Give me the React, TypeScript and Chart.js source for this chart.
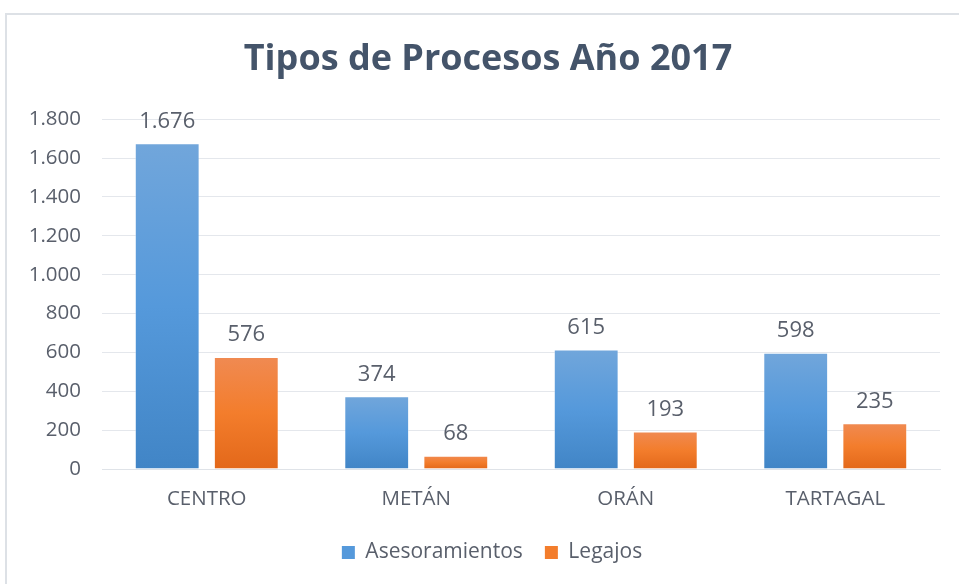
import React, { useEffect, useRef } from "react";
import { Chart, registerables } from "chart.js";

Chart.register(...registerables);

const categories = ["CENTRO", "METÁN", "ORÁN", "TARTAGAL"];
const asesoramientos = [1676, 374, 615, 598];
const legajos = [576, 68, 193, 235];
const seriesNames = ["Asesoramientos", "Legajos"];
const chartTitle = "Tipos de Procesos Año 2017";
const yMax = 1800;
const yStep = 200;

const TEXT = "#595f6b";
const FONT = "'Open Sans', 'Noto Sans', sans-serif";

const fmt = (v: number) => String(Math.round(v)).replace(/\B(?=(\d{3})+(?!\d))/g, ".");

function gradientFor(ctx: any, top: string, mid: string, bottom: string, solid: string) {
  const chart = ctx.chart;
  const y = chart.scales?.y;
  if (!y || !chart.chartArea || ctx.raw == null) return solid;
  const yTop = y.getPixelForValue(ctx.raw);
  const yBot = y.getPixelForValue(0);
  if (!isFinite(yTop) || !isFinite(yBot) || yTop === yBot) return solid;
  const g = chart.ctx.createLinearGradient(0, yTop, 0, yBot);
  g.addColorStop(0, top);
  g.addColorStop(0.5, mid);
  g.addColorStop(1, bottom);
  return g;
}

const dataLabels = {
  id: "dataLabels",
  afterDatasetsDraw(chart: any) {
    const c = chart.ctx;
    c.save();
    c.font = `22px ${FONT}`;
    c.fillStyle = TEXT;
    c.textAlign = "center";
    c.textBaseline = "bottom";
    chart.data.datasets.forEach((ds: any, i: number) => {
      const meta = chart.getDatasetMeta(i);
      meta.data.forEach((el: any, j: number) => {
        c.fillText(fmt(ds.data[j]), el.x, el.y - 11);
      });
    });
    c.restore();
  },
};

// the original chart extends past the right edge of the picture, so its
// title and legend are centred a little to the right of the canvas centre
const shiftBlocks = {
  id: "shiftBlocks",
  beforeDraw(chart: any) {
    if (chart.titleBlock) chart.titleBlock.left = 36;
    if (chart.legend) chart.legend.left = 44;
  },
};

export default function App() {
  const ref = useRef<HTMLCanvasElement>(null);
  useEffect(() => {
    if (!ref.current) return;
    const chart = new Chart(ref.current, {
      type: "bar",
      data: {
        labels: categories,
        datasets: [
          {
            label: seriesNames[0],
            data: asesoramientos,
            backgroundColor: (ctx: any) => gradientFor(ctx, "#71a6db", "#5599db", "#4185c6", "#5599db"),
            borderColor: "rgba(255,255,255,0.35)",
            borderWidth: 1,
            barPercentage: 0.82,
            categoryPercentage: 0.755,
          },
          {
            label: seriesNames[1],
            data: legajos,
            backgroundColor: (ctx: any) => gradientFor(ctx, "#f08a52", "#f37d2c", "#e3681a", "#f37d2c"),
            borderColor: "rgba(255,255,255,0.35)",
            borderWidth: 1,
            barPercentage: 0.82,
            categoryPercentage: 0.755,
          },
        ],
      },
      options: {
        animation: false,
        responsive: false,
        maintainAspectRatio: false,
        layout: { padding: { left: 0, right: 19, top: 0, bottom: 11 } },
        plugins: {
          title: {
            display: true,
            text: chartTitle,
            color: "#44546a",
            font: { family: FONT, size: 36, weight: "bold" },
            padding: { top: 38, bottom: 38 },
          },
          legend: {
            display: true,
            position: "bottom",
            labels: {
              color: TEXT,
              font: { family: FONT, size: 21 },
              boxWidth: 13,
              boxHeight: 13,
              padding: 22,
              generateLabels: (chart: any) =>
                chart.data.datasets.map((ds: any, i: number) => ({
                  text: ds.label,
                  fillStyle: i === 0 ? "#5599db" : "#f37d2c",
                  strokeStyle: i === 0 ? "#5599db" : "#f37d2c",
                  lineWidth: 0,
                  datasetIndex: i,
                  fontColor: TEXT,
                })),
            },
          },
          tooltip: { enabled: false },
        },
        scales: {
          x: {
            grid: { display: false, drawTicks: false },
            border: { display: true, color: "#dfe3e8", width: 1 },
            ticks: { color: TEXT, font: { family: FONT, size: 20.5 }, padding: 18 },
            afterFit: (scale: any) => {
              scale.height = 51;
            },
          },
          y: {
            min: 0,
            max: yMax,
            grid: { color: "#e4e7ec", lineWidth: 1, drawTicks: false },
            border: { display: false },
            ticks: {
              stepSize: yStep,
              color: TEXT,
              font: { family: FONT, size: 20.5 },
              padding: 21,
              callback: (v: any) => fmt(Number(v)),
            },
            afterFit: (scale: any) => {
              scale.width = 102;
            },
          },
        },
      },
      plugins: [dataLabels, shiftBlocks],
    });
    return () => chart.destroy();
  }, []);

  return (
    <div style={{ position: "fixed", left: 0, top: 0, width: 959, height: 584, background: "#fff", overflow: "hidden" }}>
      <div
        style={{
          position: "absolute",
          left: 5,
          top: 13,
          width: 1000,
          height: 700,
          borderTop: "2px solid #dde1e6",
          borderLeft: "2px solid #dde1e6",
        }}
      />
      <canvas ref={ref} width={959} height={584} style={{ position: "absolute", left: 0, top: 0 }} />
    </div>
  );
}
